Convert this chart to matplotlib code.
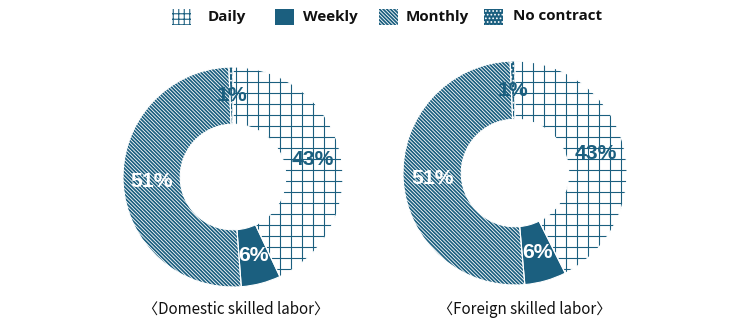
import matplotlib
matplotlib.use("Agg")
import matplotlib.pyplot as plt
from matplotlib.patches import Rectangle

# Contract type shares (%) for the two groups of workers
categories = ["Daily", "Weekly", "Monthly", "No contract"]
domestic_share = [43.0, 5.8, 50.6, 0.6]
foreign_share = [42.6, 6.0, 50.7, 0.7]
group_titles = ["〈Domestic skilled labor〉", "〈Foreign skilled labor〉"]

TEAL = "#1b5f7f"
DPI = 66
W, H = 752, 326

plt.rcParams["hatch.linewidth"] = 1.3

# Per-category fill style: (facecolor, hatch colour, hatch pattern, hatch lw)
styles = [
    ("white", TEAL, "+", 1.2),
    (TEAL, TEAL, None, 1.2),
    ("white", TEAL, "\\" * 6, 1.9),
    (TEAL, "white", "...", 1.2),
]
legend_hatches = ["++", None, "\\" * 6, "..."]
label_colors = [TEAL, "white", "white", TEAL]

fig = plt.figure(figsize=(W / DPI, H / DPI), dpi=DPI)


def style_patch(p, fc, hc, hatch, hlw):
    p.set_facecolor(fc)
    p.set_edgecolor(hc)
    p.set_linewidth(0)
    if hatch:
        p.set_hatch(hatch)
        if hasattr(p, "set_hatch_linewidth"):
            p.set_hatch_linewidth(hlw)


def donut(cx, cy, r, values):
    ax = fig.add_axes([(cx - r) / W, (H - cy - r) / H, 2 * r / W, 2 * r / H])
    wedges, _, pcts = ax.pie(
        values, startangle=90, counterclock=False, radius=1,
        autopct="%.0f%%", pctdistance=0.74,
        wedgeprops=dict(width=0.52, linewidth=0),
    )
    for w, st, t, lc in zip(wedges, styles, pcts, label_colors):
        style_patch(w, *st)
        t.set_color(lc)
        t.set_fontsize(23)
        t.set_fontweight("bold")
        t.set_fontfamily("Liberation Sans")
        t.set_zorder(5)
    # thin white separators between slices
    ax.pie(values, startangle=90, counterclock=False, radius=1,
           colors=["none"] * len(values),
           wedgeprops=dict(width=0.52, linewidth=1.2, edgecolor="white", fill=False))
    ax.set_xlim(-1, 1)
    ax.set_ylim(-1, 1)
    ax.set_aspect("equal")
    ax.axis("off")


donut(233, 177, 110, domestic_share)
donut(515, 173, 112, foreign_share)

# Overlay in pixel coordinates for the legend row and group captions
ov = fig.add_axes([0, 0, 1, 1])
ov.set_xlim(0, W)
ov.set_ylim(H, 0)
ov.axis("off")
ov.patch.set_alpha(0)

handle_x = [172, 275, 379, 484]
text_x = [208, 303, 406, 513]
for st, lh, name, hx, tx in zip(styles, legend_hatches, categories, handle_x, text_x):
    rect = Rectangle((hx, 8.5), 19, 16)
    style_patch(rect, st[0], st[1], lh, st[3])
    ov.add_patch(rect)
    ov.text(tx, 16.5, name, fontsize=16.5, fontweight="bold",
            fontfamily="Open Sans", color="#111111", va="center", ha="left")

for title, x in zip(group_titles, [236, 525]):
    ov.text(x, 309, title, fontsize=16.5, color="#111111", ha="center",
            va="center", fontfamily=["Noto Sans CJK KR", "DejaVu Sans"])

fig.savefig("out.png", dpi=DPI)
